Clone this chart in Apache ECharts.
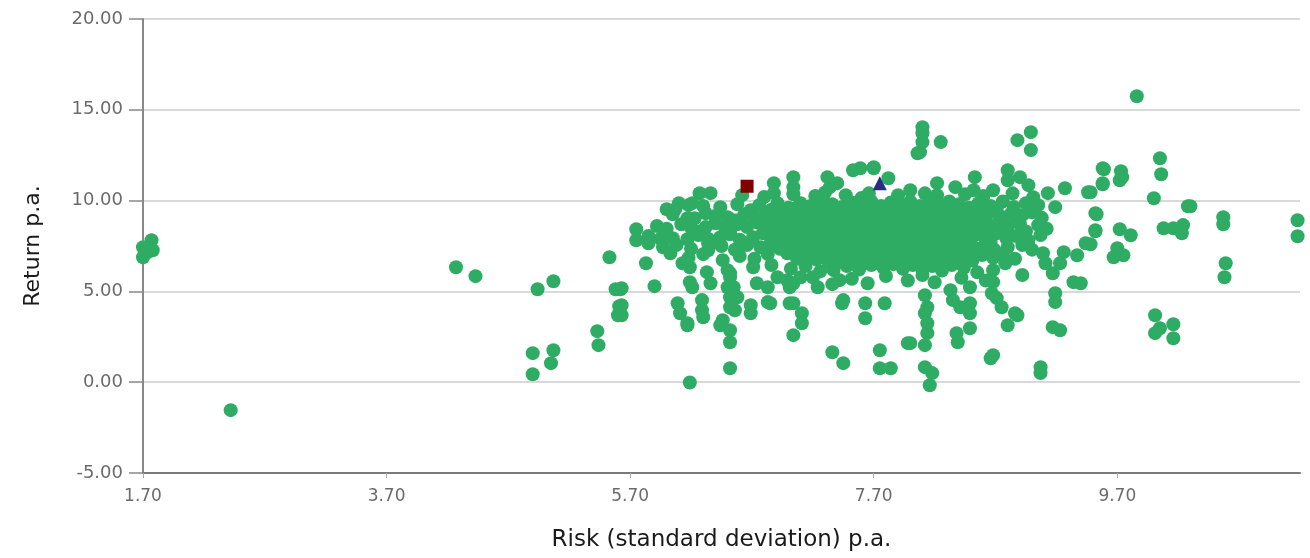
<!DOCTYPE html>
<html>
<head>
<meta charset="utf-8">
<script src="https://cdn.jsdelivr.net/npm/echarts@6/dist/echarts.min.js"></script>
<style>
  html, body { margin: 0; padding: 0; background: #ffffff; }
  #chart { width: 1310px; height: 558px; }
</style>
</head>
<body>
<div id="chart"></div>
<script>
// Axis ticks
const xTicks = [1.7, 3.7, 5.7, 7.7, 9.7];
const yTicks = [-5, 0, 5, 10, 15, 20];

// Fund universe: [risk, return]
const lowRiskFunds = [
  [1.77,7.82],[1.70,7.43],[1.78,7.27],[1.70,6.88],[1.74,7.16],[2.42,-1.54],
  [4.27,6.33],[4.43,5.84],[4.94,5.12],[5.07,5.56],[4.90,1.60],[5.07,1.76],[5.05,1.05],[4.90,0.44],
  [5.53,6.88],[5.58,5.12],[5.62,5.12],[5.61,4.18],[5.60,3.69],[5.43,2.81],[5.44,2.04],
  [5.75,8.42],[5.75,7.82]
];

const lowerFunds = [
  [5.63,5.18],[5.63,4.24],[5.63,3.69],[6.09,4.35],[6.11,3.80],[6.17,3.14],[6.17,3.25],
  [6.29,4.52],[6.29,3.96],[6.30,3.58],[6.52,4.68],[6.52,4.13],[6.56,3.96],[6.46,3.41],[6.44,3.14],
  [6.52,2.86],[6.52,2.20],[6.52,0.77],[6.19,-0.02],[6.69,4.24],[6.69,3.80],[6.83,4.41],
  [7.01,4.35],[7.11,3.80],[7.11,3.25],[7.04,2.59],[7.45,4.52],[7.44,4.35],[7.63,4.35],[7.63,3.52],
  [7.79,4.35],[7.36,1.65],[7.45,1.05],[7.75,1.76],[8.00,2.15],[7.75,0.77],[7.84,0.77],
  [8.16,-0.17],[8.18,0.50],[8.12,0.83],[7.98,2.15],[8.12,2.04],[8.14,2.70],[8.14,3.25],
  [8.12,3.80],[8.14,4.13],[8.12,4.79],[8.35,4.52],[8.41,4.13],[8.49,4.35],[8.49,3.80],
  [8.49,2.97],[8.39,2.20],[8.38,2.70],[8.66,1.32],[8.68,1.49],[8.88,3.69],[8.80,3.14],
  [8.67,4.90],[8.71,4.63],[8.75,4.13],[8.86,3.80],[9.07,0.83],[9.07,0.50],[9.17,3.03],[9.23,2.86],
  [9.19,4.90],[9.19,4.41],[9.34,5.51],[9.40,5.45],[6.58,4.68],[6.85,4.35],[7.04,4.35],
  [6.36,5.45],[6.52,6.00],[6.55,5.23],[6.91,5.78],[7.01,5.23],[7.42,5.62]
];

const upperFunds = [
  [6.88,10.96],[6.88,10.41],[7.04,11.29],[7.04,10.74],[7.32,11.29],[7.34,10.74],[7.40,10.96],
  [7.53,11.67],[7.59,11.78],[7.70,11.78],[7.70,11.84],[7.82,11.23],[8.06,12.61],
  [8.10,14.04],[8.10,13.71],[8.10,13.22],[8.08,12.67],[8.25,13.22],[8.88,13.33],[8.99,13.77],[8.99,12.78],
  [8.80,11.67],[8.80,11.12],[8.90,11.29],[8.97,10.85],[8.53,11.29],[8.22,10.96],
  [9.86,15.75],[10.05,12.33],[10.06,11.45],[9.59,11.73],[9.58,10.90],[9.73,11.62],[9.74,11.29],
  [9.72,11.12],[9.58,11.78],[9.58,10.96],[9.46,10.46],[9.48,10.46],[10.00,10.13],[10.28,9.69],[10.30,9.69],
  [9.52,9.31],[9.53,9.25],[9.52,8.37],[9.52,8.31],[9.72,8.42],[9.81,8.09],[9.44,7.65],[9.48,7.60],
  [9.70,7.38],[9.67,6.88],[9.75,6.99],[9.37,6.99],[10.08,8.48],[10.16,8.48],[10.24,8.65],[10.23,8.20],
  [10.57,9.09],[10.57,8.70],[10.59,6.55],[10.58,5.78],[11.18,8.92],[11.18,8.04],
  [10.01,3.69],[10.01,2.70],[10.05,2.97],[10.16,3.19],[10.16,2.42]
];

const coreFunds = [
  [6.27,10.41],[6.36,10.41],[6.62,10.30],[6.80,10.20],[7.04,10.35],[7.22,10.25],[7.30,10.45],[7.47,10.30],
  [7.60,10.15],[7.66,10.40],[7.90,10.30],[8.00,10.57],[8.12,10.40],[8.22,10.30],[8.37,10.74],[8.45,10.35],
  [8.52,10.57],[8.60,10.25],[8.68,10.57],[8.84,10.40],[9.01,10.19],[9.13,10.41],[9.27,10.68],
  [6.00,9.52],[6.07,9.52],[6.10,9.85],[6.18,9.75],[6.21,9.86],[6.30,9.70],[6.44,9.64],[6.58,9.80],
  [6.69,9.47],[6.76,9.75],[6.91,9.86],[7.00,9.60],[7.10,9.86],[7.18,9.70],[7.28,10.02],[7.36,9.80],
  [7.44,9.65],[7.52,9.90],[7.60,9.75],[7.68,9.95],[7.76,9.70],[7.84,9.90],[7.92,9.75],[8.00,9.95],
  [8.08,9.70],[8.16,9.90],[8.24,9.75],[8.32,9.95],[8.40,9.80],[8.48,9.60],[8.56,9.85],[8.66,9.70],
  [8.76,9.95],[8.85,9.65],[8.95,9.85],[9.05,9.75],[9.19,9.64],
  [6.05,9.25],[6.17,9.03],[6.23,9.03],[6.32,9.30],[6.40,9.15],[6.50,9.09],[6.55,8.92],[6.64,9.25],
  [6.72,9.10],[6.82,9.35],[6.90,9.15],[6.98,9.30],[7.06,9.05],[7.14,9.30],[7.22,9.10],[7.30,9.35],
  [7.38,9.15],[7.46,9.30],[7.54,9.05],[7.62,9.30],[7.70,9.15],[7.78,9.35],[7.86,9.10],[7.94,9.30],
  [8.02,9.15],[8.10,9.35],[8.18,9.10],[8.26,9.30],[8.34,9.15],[8.42,9.35],[8.50,9.05],[8.58,9.25],
  [8.67,9.40],[8.75,9.10],[8.83,9.30],[8.92,9.20],[9.00,9.35],[9.08,9.05],
  [5.92,8.60],[6.00,8.45],[6.12,8.70],[6.20,8.50],[6.32,8.54],[6.40,8.75],[6.48,8.50],[6.58,8.70],
  [6.66,8.54],[6.74,8.80],[6.82,8.55],[6.90,8.75],[6.98,8.50],[7.04,8.37],[7.12,8.70],[7.20,8.50],
  [7.28,8.75],[7.36,8.55],[7.44,8.80],[7.52,8.50],[7.60,8.70],[7.68,8.45],[7.76,8.75],[7.84,8.55],
  [7.92,8.80],[8.00,8.50],[8.08,8.70],[8.16,8.45],[8.24,8.75],[8.32,8.55],[8.40,8.80],[8.48,8.50],
  [8.56,8.70],[8.64,8.45],[8.72,8.75],[8.80,8.55],[8.90,8.70],[9.05,8.65],[9.12,8.45],
  [5.85,8.05],[5.95,7.90],[6.05,7.93],[6.17,7.87],[6.26,8.10],[6.34,7.90],[6.44,7.98],[6.52,8.15],
  [6.60,7.85],[6.71,7.98],[6.79,8.20],[6.87,7.90],[6.95,8.10],[7.03,7.85],[7.11,8.15],[7.19,7.95],
  [7.27,8.20],[7.35,7.90],[7.43,8.10],[7.51,7.85],[7.59,8.15],[7.67,7.95],[7.75,8.20],[7.83,7.90],
  [7.91,8.10],[7.99,7.85],[8.07,8.15],[8.15,7.95],[8.23,8.20],[8.31,7.90],[8.39,8.10],[8.47,7.85],
  [8.55,8.15],[8.63,7.95],[8.71,8.20],[8.79,7.90],[8.87,8.05],[8.97,7.80],[9.07,8.10],
  [5.85,7.65],[5.97,7.43],[6.08,7.55],[6.20,7.35],[6.34,7.65],[6.34,7.27],[6.45,7.50],[6.56,7.30],
  [6.66,7.55],[6.77,7.43],[6.85,7.60],[6.93,7.35],[7.01,7.55],[7.09,7.30],[7.17,7.60],[7.25,7.40],
  [7.33,7.55],[7.41,7.30],[7.49,7.60],[7.57,7.35],[7.65,7.55],[7.73,7.30],[7.81,7.60],[7.89,7.40],
  [7.97,7.55],[8.05,7.30],[8.13,7.60],[8.21,7.35],[8.29,7.55],[8.37,7.30],[8.45,7.60],[8.53,7.40],
  [8.61,7.55],[8.69,7.30],[8.80,7.43],[8.92,7.55],[9.00,7.30],
  [6.03,7.10],[6.18,6.85],[6.30,7.05],[6.46,6.72],[6.60,6.95],[6.72,6.80],[6.83,7.05],[6.99,7.10],
  [7.07,6.80],[7.15,7.00],[7.23,6.75],[7.31,7.05],[7.39,6.85],[7.47,7.00],[7.55,6.70],[7.63,6.95],
  [7.71,6.80],[7.79,7.05],[7.87,6.75],[7.95,6.95],[8.03,6.70],[8.11,7.00],[8.19,6.80],[8.27,7.05],
  [8.35,6.75],[8.43,6.95],[8.51,6.70],[8.59,7.00],[8.68,6.85],[8.76,7.05],[8.86,6.80],[9.09,7.10],[9.26,7.16],
  [5.83,6.55],[6.13,6.55],[6.19,6.33],[6.33,6.06],[6.50,6.17],[6.71,6.33],[6.86,6.45],[7.02,6.25],
  [7.14,6.40],[7.26,6.10],[7.37,6.17],[7.48,6.40],[7.58,6.20],[7.68,6.45],[7.78,6.30],[7.86,6.50],
  [7.94,6.25],[8.02,6.45],[8.10,6.20],[8.18,6.40],[8.26,6.15],[8.34,6.45],[8.44,6.30],[8.55,6.05],
  [8.68,6.17],[8.78,6.55],[9.11,6.55],[9.17,6.00],[9.23,6.55],
  [5.90,5.29],[6.19,5.51],[6.21,5.23],[6.52,5.78],[6.50,5.23],[6.74,5.45],[6.83,5.23],[6.99,5.60],
  [7.04,5.45],[7.10,5.78],[7.20,5.78],[7.24,5.23],[7.36,5.40],[7.52,5.70],[7.65,5.45],[7.80,5.85],
  [7.98,5.60],[8.10,5.90],[8.20,5.50],[8.33,5.07],[8.49,5.23],[8.42,5.75],[8.62,5.60],[8.68,5.51],[8.92,5.90]
];

// Densest band of the universe, between the rows above
const denseFunds = [
  [6.86,9.50],[6.95,9.42],[7.04,9.55],[7.13,9.45],[7.22,9.58],[7.31,9.40],[7.40,9.52],[7.49,9.44],
  [7.58,9.56],[7.67,9.42],[7.76,9.50],[7.85,9.58],[7.94,9.44],[8.03,9.52],[8.12,9.60],[8.21,9.42],
  [8.30,9.55],[8.39,9.46],[8.48,9.38],[8.55,9.58],[8.71,9.55],
  [6.60,8.95],[6.78,8.98],[6.86,8.92],[6.95,8.98],[7.04,8.88],[7.13,8.96],[7.22,8.90],[7.31,8.98],
  [7.40,8.92],[7.49,8.97],[7.58,8.88],[7.67,8.95],[7.76,8.90],[7.85,8.98],[7.94,8.92],[8.03,8.96],
  [8.12,8.88],[8.21,8.95],[8.30,8.92],[8.39,8.98],[8.48,8.88],[8.62,8.95],[8.86,8.98],
  [6.26,8.30],[6.52,8.32],[6.86,8.35],[6.95,8.28],[7.13,8.36],[7.22,8.30],[7.31,8.38],[7.40,8.30],
  [7.49,8.35],[7.58,8.28],[7.67,8.36],[7.76,8.30],[7.85,8.38],[7.94,8.30],[8.03,8.34],[8.12,8.28],
  [8.21,8.36],[8.30,8.30],[8.39,8.34],[8.48,8.28],[8.60,8.32],[8.76,8.36],[8.95,8.30],
  [6.40,7.72],[6.62,7.70],[6.86,7.75],[6.95,7.68],[7.04,7.74],[7.13,7.70],[7.22,7.76],[7.31,7.68],
  [7.40,7.74],[7.49,7.70],[7.58,7.76],[7.67,7.70],[7.76,7.74],[7.85,7.68],[7.94,7.75],[8.03,7.70],
  [8.12,7.76],[8.21,7.70],[8.30,7.74],[8.39,7.68],[8.48,7.75],[8.66,7.72],
  [7.00,7.15],[7.10,7.18],[7.20,7.12],[7.30,7.20],[7.40,7.14],[7.50,7.18],[7.60,7.12],[7.70,7.18],
  [7.80,7.14],[7.90,7.20],[8.00,7.14],[8.10,7.18],[8.20,7.12],[8.30,7.18],[8.40,7.14],[8.50,7.20],
  [7.33,6.60],[7.43,6.62],[7.53,6.56],[7.63,6.62],[7.73,6.58],[7.83,6.62],[7.93,6.56],[8.03,6.62],
  [8.13,6.58],[8.23,6.62],[8.33,6.56],[8.43,6.60]
];

// Highlighted holdings
const portfolio = [[6.66, 10.79]];
const benchmark = [[7.75, 10.96]];

const funds = lowRiskFunds.concat(lowerFunds, upperFunds, coreFunds, denseFunds);

const labelFont = '"DejaVu Sans", sans-serif';

const chart = echarts.init(document.getElementById('chart'), null, { renderer: 'canvas' });
chart.setOption({
  animation: false,
  backgroundColor: '#ffffff',
  grid: { left: 143, right: 10, top: 19, bottom: 85, containLabel: false },
  xAxis: {
    type: 'value',
    min: 1.7,
    max: 11.2,
    name: 'Risk (standard deviation) p.a.',
    nameLocation: 'middle',
    nameGap: 56,
    nameTextStyle: { fontFamily: labelFont, fontSize: 23, color: '#1a1a1a' },
    axisLine: { show: true, onZero: false, lineStyle: { color: '#7a7a7a', width: 2 } },
    axisTick: { show: true, length: 5, customValues: xTicks, lineStyle: { color: '#aaaaaa', width: 1 } },
    axisLabel: {
      customValues: xTicks,
      margin: 15,
      fontFamily: labelFont, fontSize: 17, color: '#6b6b6b',
      formatter: v => v.toFixed(2)
    },
    splitLine: { show: false }
  },
  yAxis: {
    type: 'value',
    min: -5,
    max: 20,
    interval: 5,
    name: 'Return p.a.',
    nameLocation: 'middle',
    nameGap: 99,
    nameTextStyle: { fontFamily: labelFont, fontSize: 22, color: '#1a1a1a' },
    axisLine: { show: true, lineStyle: { color: '#888888', width: 2 } },
    axisTick: { show: true, length: 14, customValues: yTicks, lineStyle: { color: '#888888', width: 1.5 } },
    axisLabel: {
      customValues: yTicks,
      margin: 20,
      fontFamily: labelFont, fontSize: 18, color: '#6b6b6b',
      formatter: v => v.toFixed(2)
    },
    splitLine: { show: true, lineStyle: { color: '#d9d9d9', width: 2 } }
  },
  series: [
    {
      name: 'Funds',
      type: 'scatter',
      data: funds,
      symbol: 'circle',
      symbolSize: 14,
      itemStyle: { color: '#2fac64', opacity: 1 },
      emphasis: { disabled: true }
    },
    {
      name: 'Portfolio',
      type: 'scatter',
      data: portfolio,
      symbol: 'rect',
      symbolSize: 13,
      itemStyle: { color: '#7f0000', opacity: 1 },
      emphasis: { disabled: true },
      z: 5
    },
    {
      name: 'Benchmark',
      type: 'scatter',
      data: benchmark,
      symbol: 'triangle',
      symbolSize: 14,
      itemStyle: { color: '#2b2b85', opacity: 1 },
      emphasis: { disabled: true },
      z: 5
    }
  ]
});
</script>
</body>
</html>
